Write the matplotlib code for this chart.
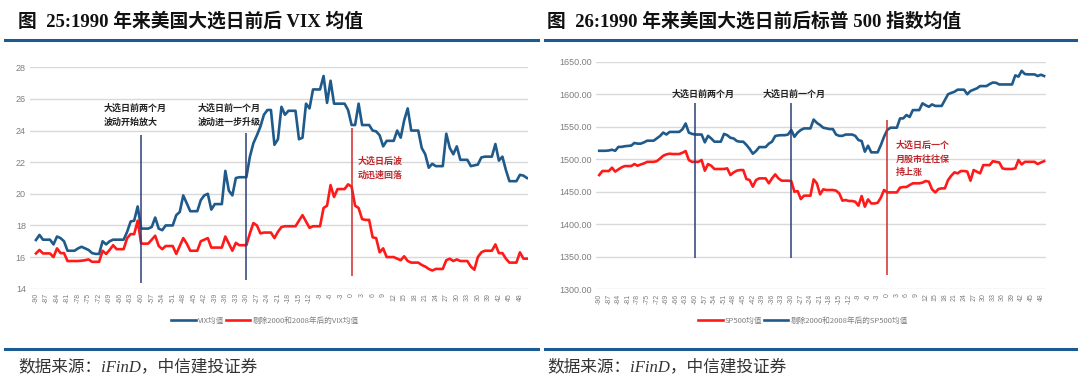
import numpy as np
import matplotlib
matplotlib.use("Agg")
import matplotlib.pyplot as plt
from matplotlib.lines import Line2D

plt.rcParams['font.family'] = ['Noto Sans CJK SC', 'DejaVu Sans']

# ---- data: days relative to election day ----
vix_days = np.arange(-90, 51)
vix_avg = [
    17.08, 17.4, 17.1, 17.1, 17.1, 16.8, 17.3, 17.2, 17.0, 16.4,
    16.4, 16.4, 16.55, 16.65, 16.55, 16.45, 16.25, 16.2, 16.2, 17.0,
    16.8, 17.0, 17.1, 17.1, 17.1, 17.1, 17.6, 18.25, 18.3, 19.2,
    17.8, 17.8, 17.8, 17.9, 18.5, 17.8, 17.7, 18.0, 18.0, 18.0,
    18.65, 18.85, 19.9, 19.4, 18.9, 18.9, 18.9, 19.6, 19.9, 20.0,
    19.0, 19.35, 19.35, 19.35, 21.45, 20.2, 19.9, 21.0, 21.05, 21.05,
    21.05, 22.35, 23.2, 23.7, 24.25, 25.0, 25.3, 25.3, 23.1, 23.45,
    25.5, 25.0, 25.25, 25.25, 25.25, 23.45, 23.55, 25.7, 25.4, 26.6,
    26.6, 26.6, 27.45, 25.75, 27.15, 25.7, 25.7, 25.7, 25.7, 25.3,
    24.35, 24.35, 25.7, 24.35, 24.35, 24.35, 24.0, 23.95, 23.7, 23.0,
    23.35, 23.35, 23.35, 24.0, 23.55, 24.65, 25.4, 24.0, 24.0, 24.0,
    22.9, 22.5, 21.65, 21.9, 21.75, 21.75, 21.75, 23.8, 22.9, 22.5,
    23.0, 22.15, 22.15, 22.15, 21.75, 21.8, 21.85, 22.3, 22.35, 22.35,
    22.35, 23.15, 22.1, 22.35, 21.5, 20.8, 20.8, 20.8, 21.2, 21.15,
    21.0,
]
vix_ex = [
    16.23, 16.45, 16.23, 16.23, 16.23, 16.0, 16.55, 16.25, 16.25, 15.75,
    15.75, 15.75, 15.75, 15.77, 15.8, 15.85, 15.7, 15.7, 15.7, 16.4,
    16.2, 16.45, 16.75, 16.5, 16.5, 16.5, 17.2, 17.45, 17.45, 18.3,
    16.85, 16.85, 16.85, 17.1, 17.35, 16.7, 16.5, 16.7, 16.7, 16.7,
    16.2, 16.7, 17.2, 16.85, 16.4, 16.4, 16.4, 17.0, 17.1, 17.2,
    16.6, 16.6, 16.6, 16.6, 17.3, 16.85, 16.4, 16.9, 16.75, 16.75,
    16.75, 17.5, 18.15, 18.0, 17.5, 17.55, 17.55, 17.55, 17.2, 17.6,
    17.9, 17.95, 17.95, 17.95, 17.95, 18.3, 18.65, 18.25, 17.85, 17.95,
    17.95, 17.95, 19.1, 19.25, 20.55, 19.8, 20.3, 20.3, 20.3, 20.6,
    20.45, 19.25, 19.1, 18.4, 18.35, 18.35, 17.25, 17.2, 16.3, 16.55,
    16.0, 16.0, 16.0, 15.9, 15.8, 16.05, 15.75, 15.65, 15.65, 15.65,
    15.5, 15.4, 15.25, 15.15, 15.25, 15.25, 15.25, 15.8, 15.9, 15.75,
    15.85, 15.75, 15.75, 15.75, 15.4, 15.2, 16.0, 16.3, 16.4, 16.4,
    16.4, 16.8, 16.25, 16.25, 15.9, 15.65, 15.65, 15.65, 16.3, 15.9,
    15.9,
]

sp_days = np.arange(-90, 50)
sp_avg = [
    1475.7, 1481.9, 1481.9, 1481.9, 1487, 1481, 1484.4, 1487.5, 1489.5, 1489.5,
    1489.5, 1492.6, 1490, 1492, 1493.6, 1496, 1496, 1496, 1497, 1501,
    1505.4, 1507.5, 1508.5, 1508, 1508, 1508, 1510, 1512.6, 1498.8, 1496,
    1496, 1496, 1498.8, 1482.4, 1492.6, 1490, 1485, 1485, 1485, 1485,
    1486, 1475.7, 1479.8, 1482.4, 1483.4, 1483.4, 1469.6, 1468, 1457.8, 1468,
    1470.6, 1470.6, 1470.6, 1463, 1470.6, 1476.7, 1470.6, 1467, 1467, 1467,
    1466.5, 1450, 1451, 1438.8, 1444, 1444, 1444, 1469, 1463, 1446,
    1453.7, 1452.7, 1452.7, 1452.7, 1451.7, 1447.5, 1436.3, 1437.3, 1435.8, 1435.8,
    1434.7, 1428.6, 1443.4, 1427, 1438.3, 1432, 1432, 1433, 1440.9, 1452.7,
    1449, 1449, 1449, 1449, 1456.3, 1457.3, 1457.3, 1460.3, 1463, 1463,
    1463, 1464, 1466.5, 1465.5, 1453.7, 1449, 1454.2, 1455.2, 1455.2, 1468,
    1474.7, 1479.8, 1478.3, 1481.9, 1481.9, 1481, 1467, 1483.4, 1480.8, 1478.3,
    1491, 1491, 1491, 1497, 1496, 1495, 1486, 1485, 1485, 1485,
    1486, 1498.8, 1492, 1496, 1496, 1496, 1496, 1492.6, 1495, 1497,
]
sp_ex = [
    1513, 1513, 1513, 1513.5, 1514.6, 1513, 1519, 1519, 1520, 1520.5,
    1521, 1525, 1524, 1524, 1526, 1528.5, 1528.5, 1528.5, 1532, 1535.7,
    1541, 1538, 1542, 1542, 1542, 1542, 1546, 1555, 1541, 1539,
    1538, 1538, 1538, 1526, 1536, 1532, 1527, 1527, 1527, 1539,
    1537, 1533, 1532, 1528, 1527, 1527, 1522, 1516, 1508.5, 1512.6,
    1518.7, 1518.7, 1518.7, 1524, 1527, 1535.7, 1536.7, 1537, 1537, 1538,
    1545, 1534.6, 1541, 1545, 1547.4, 1547.4, 1547.4, 1561, 1556, 1552.6,
    1548.5, 1547.4, 1546.4, 1546.4, 1538, 1536, 1536, 1538, 1538, 1538,
    1536, 1529.5, 1528, 1511.6, 1520.8, 1510.6, 1510.6, 1510.6, 1521.8, 1534.6,
    1545, 1548.5, 1548.5, 1548.5, 1562.8, 1562.8, 1568, 1565, 1575.6, 1575.6,
    1575.6, 1586, 1583, 1580.7, 1584.3, 1582, 1582, 1582, 1591, 1600,
    1602, 1603.8, 1607, 1607, 1607, 1600, 1605, 1607, 1609, 1612.5,
    1612.5, 1612.5, 1615.6, 1618, 1617.5, 1615, 1615, 1615, 1615, 1615,
    1629, 1627, 1636, 1631, 1630.5, 1630.5, 1630.5, 1628, 1630, 1628,
]

tick_days = np.arange(-90, 49, 3)

BLUE = "#1f5a8a"
RED = "#ff1a1a"
NAVY = "#2c3e7a"
DARKRED = "#c0282d"
GRID = "#d9d9d9"
LABEL = "#7f7f7f"
RULE = "#1c5a94"

W, H = 1080, 388
fig = plt.figure(figsize=(W / 100, H / 100), dpi=100)


def add_axes_px(left, top, right, bottom):
    return fig.add_axes([left / W, 1 - bottom / H, (right - left) / W, (bottom - top) / H])


def fx(x):
    return x / W


def fy(y):
    return 1 - y / H


def style_axes(ax, yticks, yfmt):
    for s in ax.spines.values():
        s.set_visible(False)
    ax.set_yticks(yticks)
    ax.set_yticklabels([yfmt.format(v) for v in yticks], color=LABEL, fontsize=6.5,
                       family=['Liberation Sans', 'DejaVu Sans'])
    ax.set_xticks(tick_days)
    ax.set_xticklabels([str(d) for d in tick_days], rotation=90, color=LABEL, fontsize=5,
                       family=['Liberation Sans', 'DejaVu Sans'])
    ax.tick_params(length=0, pad=3)
    ax.grid(axis='y', color=GRID, linewidth=1)
    ax.set_axisbelow(True)


# ---------- left: VIX ----------
ax1 = add_axes_px(30, 67.3, 528, 288.7)
ax1.set_xlim(-91.7, 50.3)
ax1.set_ylim(14, 28)
style_axes(ax1, np.arange(14, 29, 2), "{:d}")
ax1.plot(vix_days, vix_avg, color=BLUE, linewidth=1.9, label="VIX均值")
ax1.plot(vix_days, vix_ex, color=RED, linewidth=1.9, label="剔除2000和2008年后的VIX均值")
ax1.vlines(-60, 14.38, 23.72, color=NAVY, linewidth=1.1)
ax1.vlines(-30, 14.55, 23.86, color=NAVY, linewidth=1.1)
ax1.vlines(0, 14.8, 24.14, color="#d42a2a", linewidth=1.1)
ax1.text(-70.6, 24.98, "大选日前两个月\n波动开始放大", fontsize=6.5, fontweight='bold',
         color="#222222", va='center', ha='left', linespacing=1.7)
ax1.text(-44, 24.98, "大选日前一个月\n波动进一步升级", fontsize=6.5, fontweight='bold',
         color="#222222", va='center', ha='left', linespacing=1.7)
ax1.text(1.7, 21.63, "大选日后波\n动迅速回落", fontsize=6.5, fontweight='bold',
         color=DARKRED, va='center', ha='left', linespacing=1.7)
ax1.legend(loc='center', bbox_to_anchor=(fx(265), fy(321)), bbox_transform=fig.transFigure,
           ncol=2, frameon=False, fontsize=5.5, handlelength=3.2, handletextpad=0.3,
           columnspacing=0.2, labelcolor=LABEL)

# ---------- right: S&P 500 ----------
ax2 = add_axes_px(596, 61.7, 1046, 289.3)
ax2.set_xlim(-91.0, 49.6)
ax2.set_ylim(1300, 1650)
style_axes(ax2, np.arange(1300, 1651, 50), "{:.2f}")
ax2.plot(sp_days, sp_avg, color=RED, linewidth=1.9, label="SP500均值")
ax2.plot(sp_days, sp_ex, color=BLUE, linewidth=1.9, label="剔除2000和2008年后的SP500均值")
ax2.vlines(-60, 1348.7, 1585.9, color=NAVY, linewidth=1.1)
ax2.vlines(-30, 1348.7, 1585.9, color=NAVY, linewidth=1.1)
ax2.vlines(0, 1322, 1560, color="#d42a2a", linewidth=1.1)
ax2.text(-67.3, 1600.3, "大选日前两个月", fontsize=6.5, fontweight='bold',
         color="#222222", va='center', ha='left')
ax2.text(-38.8, 1600.3, "大选日前一个月", fontsize=6.5, fontweight='bold',
         color="#222222", va='center', ha='left')
ax2.text(2.7, 1500.4, "大选日后一个\n月股市往往保\n持上涨", fontsize=6.5, fontweight='bold',
         color=DARKRED, va='center', ha='left', linespacing=1.6)
ax2.legend(loc='center', bbox_to_anchor=(fx(803), fy(321)), bbox_transform=fig.transFigure,
           ncol=2, frameon=False, fontsize=5.5, handlelength=3.2, handletextpad=0.3,
           columnspacing=0.2, labelcolor=LABEL)

# ---------- titles, rules, sources ----------
title_font = ['Liberation Serif', 'Noto Sans CJK SC']
fig.text(fx(18), fy(21), "图  25:1990 年来美国大选日前后 VIX 均值", fontsize=13.5,
         fontweight='bold', family=title_font, va='center', ha='left', color="#111111")
fig.text(fx(547), fy(21), "图  26:1990 年来美国大选日前后标普 500 指数均值", fontsize=13.5,
         fontweight='bold', family=title_font, va='center', ha='left', color="#111111")

for x0, x1 in [(5, 538), (545, 1076)]:
    for y in (39.5, 349):
        fig.add_artist(Line2D([fx(x0), fx(x1)], [fy(y), fy(y)], color=RULE, linewidth=2.2,
                              transform=fig.transFigure))

fig.text(fx(18), fy(367), "数据来源：iFinD，中信建投证券", fontsize=12, style='italic',
         family=title_font, va='center', ha='left', color="#333333")
fig.text(fx(547), fy(367), "数据来源：iFinD，中信建投证券", fontsize=12, style='italic',
         family=title_font, va='center', ha='left', color="#333333")

fig.savefig("out.png", dpi=100)
